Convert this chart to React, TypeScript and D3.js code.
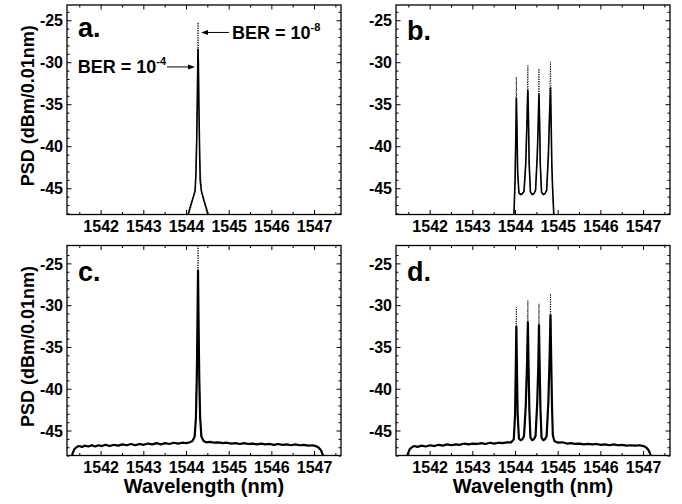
import React, { useEffect, useRef } from "react";
import { select, scaleLinear, line } from "d3";

// axis ticks
const xDomain = [1541.2, 1547.62];
const xMajor = [1542, 1543, 1544, 1545, 1546, 1547];
const xMinor = [1541.5, 1542.5, 1543.5, 1544.5, 1545.5, 1546.5, 1547.5];
const yMajor = [-45, -40, -35, -30, -25];
const yMinor = [-48, -47, -46, -44, -43, -42, -41, -39, -38, -37, -36, -34, -33, -32, -31, -29, -28, -27, -26, -24];
const topRowY = [-48.07, -23.13];
const bottomRowY = [-47.93, -22.8];

// a. single channel, BER = 1e-4 (solid) and BER = 1e-8 (dotted)
const aSolid = [
  [1544.02, -48.4], [1544.08, -47.3], [1544.14, -46.3], [1544.2, -45.3], [1544.22, -43.5],
  [1544.24, -39], [1544.255, -34], [1544.265, -29.8], [1544.27, -28.4], [1544.278, -30],
  [1544.29, -35], [1544.305, -40], [1544.32, -44], [1544.35, -45.3], [1544.41, -46.4],
  [1544.47, -47.4], [1544.52, -48.4]
];
const aDotted = [
  [1544.04, -48.4], [1544.2, -45.3], [1544.235, -40], [1544.255, -33], [1544.265, -27],
  [1544.27, -25.2], [1544.275, -27], [1544.29, -34], [1544.31, -41], [1544.35, -45.3],
  [1544.5, -48.4]
];

// b. four channels
const bSolid = [
  [1543.96, -48.4], [1543.99, -44], [1544.01, -38], [1544.02, -34.2], [1544.035, -38],
  [1544.05, -43], [1544.08, -45.5], [1544.12, -45.7], [1544.16, -45.6], [1544.2, -45.3],
  [1544.24, -42], [1544.27, -37], [1544.29, -33.3], [1544.305, -37], [1544.32, -42],
  [1544.35, -45.4], [1544.39, -45.7], [1544.43, -45.6], [1544.47, -45.2], [1544.51, -41],
  [1544.535, -37], [1544.55, -33.8], [1544.565, -37], [1544.58, -42], [1544.61, -45.4],
  [1544.65, -45.7], [1544.69, -45.6], [1544.73, -45.2], [1544.77, -41], [1544.8, -36],
  [1544.82, -33], [1544.835, -37], [1544.85, -42], [1544.87, -45], [1544.9, -48.4]
];
const bDotted = [
  [1543.97, -48.4], [1543.99, -44], [1544.01, -36], [1544.02, -31.7], [1544.03, -36],
  [1544.05, -43], [1544.08, -45.5], [1544.12, -45.7], [1544.16, -45.6], [1544.2, -45.3],
  [1544.24, -42], [1544.27, -35], [1544.29, -30.3], [1544.3, -35], [1544.32, -42],
  [1544.35, -45.4], [1544.39, -45.7], [1544.43, -45.6], [1544.47, -45.2], [1544.51, -41],
  [1544.535, -35], [1544.55, -30.7], [1544.56, -35], [1544.58, -42], [1544.61, -45.4],
  [1544.65, -45.7], [1544.69, -45.6], [1544.73, -45.2], [1544.77, -41], [1544.8, -34],
  [1544.82, -29.9], [1544.83, -34], [1544.85, -42], [1544.87, -45], [1544.9, -48.4]
];

// c. single channel with ASE floor
const cSolid = [
  [1541.3, -48.4], [1541.33, -47.7], [1541.37, -47.2], [1541.42, -46.95], [1541.48, -46.8],
  [1541.55, -46.9], [1541.62, -46.75], [1541.7, -46.85], [1541.78, -46.7], [1541.86, -46.85],
  [1541.94, -46.7], [1542.02, -46.8], [1542.1, -46.65], [1542.2, -46.8], [1542.3, -46.65],
  [1542.4, -46.75], [1542.5, -46.6], [1542.6, -46.7], [1542.7, -46.55], [1542.8, -46.7],
  [1542.9, -46.55], [1543.0, -46.65], [1543.1, -46.5], [1543.2, -46.6], [1543.3, -46.45],
  [1543.4, -46.6], [1543.5, -46.45], [1543.6, -46.55], [1543.7, -46.4], [1543.8, -46.5],
  [1543.9, -46.4], [1544.0, -46.45], [1544.08, -46.35], [1544.14, -46.2], [1544.19, -45.7],
  [1544.22, -43.5], [1544.24, -39], [1544.255, -33], [1544.265, -28], [1544.27, -25.8],
  [1544.276, -28.5], [1544.285, -33], [1544.3, -39], [1544.32, -43.5], [1544.35, -45.7],
  [1544.4, -46.2], [1544.46, -46.35], [1544.55, -46.3], [1544.65, -46.4], [1544.75, -46.35],
  [1544.85, -46.45], [1544.95, -46.4], [1545.05, -46.5], [1545.15, -46.45], [1545.25, -46.55],
  [1545.35, -46.45], [1545.45, -46.55], [1545.55, -46.5], [1545.65, -46.6], [1545.75, -46.5],
  [1545.85, -46.6], [1545.95, -46.55], [1546.05, -46.65], [1546.15, -46.55], [1546.25, -46.65],
  [1546.35, -46.6], [1546.45, -46.7], [1546.55, -46.6], [1546.65, -46.7], [1546.75, -46.65],
  [1546.85, -46.75], [1546.95, -46.7], [1547.03, -46.8], [1547.1, -47.0], [1547.15, -47.3],
  [1547.19, -47.8], [1547.22, -48.4]
];
const cDotted = [
  [1544.2, -45.6], [1544.24, -38], [1544.258, -31], [1544.267, -26], [1544.27, -22.3],
  [1544.274, -26], [1544.283, -31], [1544.3, -38], [1544.34, -45.6]
];

// d. four channels with ASE floor
const dSolid = [
  [1541.45, -48.4], [1541.48, -47.7], [1541.52, -47.2], [1541.57, -46.95], [1541.63, -46.8],
  [1541.7, -46.9], [1541.8, -46.75], [1541.9, -46.85], [1542.0, -46.7], [1542.1, -46.8],
  [1542.2, -46.65], [1542.3, -46.75], [1542.4, -46.6], [1542.5, -46.7], [1542.6, -46.6],
  [1542.7, -46.65], [1542.8, -46.5], [1542.9, -46.6], [1543.0, -46.5], [1543.1, -46.55],
  [1543.2, -46.45], [1543.3, -46.55], [1543.4, -46.4], [1543.5, -46.5], [1543.6, -46.4],
  [1543.7, -46.45], [1543.8, -46.35], [1543.9, -46.35], [1543.96, -46.0], [1543.99, -43],
  [1544.005, -38], [1544.02, -32.5], [1544.035, -38], [1544.05, -43], [1544.08, -45.9],
  [1544.12, -46.1], [1544.16, -46.0], [1544.2, -45.6], [1544.24, -42], [1544.27, -37],
  [1544.29, -32.0], [1544.305, -37], [1544.325, -42.5], [1544.35, -45.8], [1544.39, -46.1],
  [1544.43, -46.0], [1544.47, -45.6], [1544.51, -41.5], [1544.535, -37], [1544.55, -32.35],
  [1544.565, -37], [1544.585, -42.5], [1544.61, -45.8], [1544.65, -46.1], [1544.69, -46.0],
  [1544.73, -45.6], [1544.77, -41.5], [1544.8, -36], [1544.82, -31.15], [1544.835, -36],
  [1544.855, -42], [1544.875, -45.5], [1544.91, -46.2], [1545.0, -46.4], [1545.1, -46.35],
  [1545.2, -46.5], [1545.3, -46.45], [1545.4, -46.55], [1545.5, -46.5], [1545.6, -46.6],
  [1545.7, -46.55], [1545.8, -46.6], [1545.9, -46.55], [1546.0, -46.65], [1546.1, -46.6],
  [1546.2, -46.7], [1546.3, -46.6], [1546.4, -46.7], [1546.5, -46.65], [1546.6, -46.75],
  [1546.7, -46.7], [1546.8, -46.75], [1546.9, -46.7], [1547.0, -46.8], [1547.07, -47.0],
  [1547.12, -47.3], [1547.16, -47.8], [1547.19, -48.4]
];
const dDotted = [
  [1543.96, -46.0], [1543.99, -43], [1544.005, -36], [1544.02, -30.16], [1544.03, -36],
  [1544.05, -43], [1544.08, -45.9], [1544.12, -46.1], [1544.16, -46.0], [1544.2, -45.6],
  [1544.24, -42], [1544.275, -35], [1544.29, -29.36], [1544.3, -35], [1544.325, -42.5],
  [1544.35, -45.8], [1544.39, -46.1], [1544.43, -46.0], [1544.47, -45.6], [1544.51, -41.5],
  [1544.54, -35], [1544.55, -29.76], [1544.56, -35], [1544.585, -42.5], [1544.61, -45.8],
  [1544.65, -46.1], [1544.69, -46.0], [1544.73, -45.6], [1544.77, -41.5], [1544.805, -34],
  [1544.82, -28.57], [1544.83, -34], [1544.855, -42], [1544.875, -45.5], [1544.91, -46.2]
];

const panels = [
  { id: "a", left: 67, top: 5, w: 274, h: 209.5, yDomain: topRowY, solid: aSolid, dotted: aDotted, floorW: 1.6 },
  { id: "b", left: 396, top: 5, w: 274, h: 209.5, yDomain: topRowY, solid: bSolid, dotted: bDotted, floorW: 1.6 },
  { id: "c", left: 67, top: 245.5, w: 274, h: 210, yDomain: bottomRowY, solid: cSolid, dotted: cDotted, floorW: 2.2 },
  { id: "d", left: 396, top: 245.5, w: 274, h: 210, yDomain: bottomRowY, solid: dSolid, dotted: dDotted, floorW: 2.2 }
];

const font = "'Liberation Sans', Arial, sans-serif";

function Panel({ p }) {
  const ref = useRef(null);

  useEffect(() => {
    const g = select(ref.current);
    g.selectAll("*").remove();

    const x = scaleLinear().domain(xDomain).range([0, p.w]);
    const y = scaleLinear().domain(p.yDomain).range([p.h, 0]);

    g.append("clipPath")
      .attr("id", "clip-" + p.id)
      .append("rect")
      .attr("width", p.w)
      .attr("height", p.h);

    const path = line()
      .x(d => x(d[0]))
      .y(d => y(d[1]));

    const traces = g.append("g").attr("clip-path", `url(#clip-${p.id})`);
    traces.append("path")
      .attr("d", path(p.dotted))
      .attr("fill", "none")
      .attr("stroke", "#000")
      .attr("stroke-width", 1)
      .attr("stroke-dasharray", "1 1.4");
    traces.append("path")
      .attr("d", path(p.solid))
      .attr("fill", "none")
      .attr("stroke", "#000")
      .attr("stroke-width", p.floorW)
      .attr("stroke-linejoin", "round");

    // inward ticks on all four sides
    const ticks = g.append("g").attr("stroke", "#000").attr("stroke-width", 1);
    const xt = [...xMajor.map(v => [v, 4.5]), ...xMinor.map(v => [v, 2.5])];
    xt.forEach(([v, len]) => {
      ticks.append("line").attr("x1", x(v)).attr("x2", x(v)).attr("y1", p.h).attr("y2", p.h - len);
      ticks.append("line").attr("x1", x(v)).attr("x2", x(v)).attr("y1", 0).attr("y2", len);
    });
    const yt = [...yMajor.map(v => [v, 4.5]), ...yMinor.map(v => [v, 2.5])];
    yt.forEach(([v, len]) => {
      ticks.append("line").attr("y1", y(v)).attr("y2", y(v)).attr("x1", 0).attr("x2", len);
      ticks.append("line").attr("y1", y(v)).attr("y2", y(v)).attr("x1", p.w).attr("x2", p.w - len);
    });

    g.append("rect")
      .attr("width", p.w)
      .attr("height", p.h)
      .attr("fill", "none")
      .attr("stroke", "#000")
      .attr("stroke-width", 1.3);

    g.selectAll(".xl")
      .data(xMajor)
      .enter()
      .append("text")
      .attr("x", d => x(d))
      .attr("y", p.h + 17)
      .attr("text-anchor", "middle")
      .attr("font-family", font)
      .attr("font-weight", "bold")
      .attr("font-size", 16)
      .text(d => d);

    g.selectAll(".yl")
      .data(yMajor)
      .enter()
      .append("text")
      .attr("x", -4)
      .attr("y", d => y(d))
      .attr("dy", "0.36em")
      .attr("text-anchor", "end")
      .attr("font-family", font)
      .attr("font-weight", "bold")
      .attr("font-size", 16)
      .text(d => d);

    g.append("text")
      .attr("x", 11)
      .attr("y", p.id === "a" ? 32 : 35)
      .attr("font-family", font)
      .attr("font-weight", "bold")
      .attr("font-size", 27)
      .text(p.id + ".");

    if (p.id === "a") {
      const peak = 1544.27;
      const ann = g.append("g").attr("font-family", font).attr("font-weight", "bold").attr("font-size", 18);

      // BER = 1e-8 arrow, pointing left at the dotted trace
      const t1x = x(peak) + 3;
      const t1y = y(-26.4);
      ann.append("line").attr("x1", t1x + 5).attr("x2", t1x + 28).attr("y1", t1y).attr("y2", t1y).attr("stroke", "#000");
      ann.append("path")
        .attr("d", `M${t1x},${t1y}L${t1x + 7},${t1y - 2.5}L${t1x + 7},${t1y + 2.5}Z`)
        .attr("fill", "#000");
      const txt1 = ann.append("text").attr("x", t1x + 31).attr("y", t1y + 7);
      txt1.append("tspan").text("BER = 10");
      txt1.append("tspan").attr("dy", -8).attr("font-size", 11).text("-8");

      // BER = 1e-4 arrow, pointing right at the solid trace
      const t2x = x(peak) - 3;
      const t2y = y(-30.5);
      ann.append("line").attr("x1", t2x - 28).attr("x2", t2x - 5).attr("y1", t2y).attr("y2", t2y).attr("stroke", "#000");
      ann.append("path")
        .attr("d", `M${t2x},${t2y}L${t2x - 7},${t2y - 2.5}L${t2x - 7},${t2y + 2.5}Z`)
        .attr("fill", "#000");
      const txt2 = ann.append("text").attr("x", t2x - 29).attr("y", t2y + 6).attr("text-anchor", "end");
      txt2.append("tspan").text("BER = 10");
      txt2.append("tspan").attr("dy", -8).attr("font-size", 11).text("-4");
    }

    if (p.id === "a" || p.id === "c") {
      g.append("text")
        .attr("transform", `translate(-33,${p.h / 2 - 4}) rotate(-90)`)
        .attr("text-anchor", "middle")
        .attr("font-family", font)
        .attr("font-weight", "bold")
        .attr("font-size", 18)
        .text("PSD (dBm/0.01nm)");
    }

    if (p.id === "c" || p.id === "d") {
      g.append("text")
        .attr("x", p.w / 2)
        .attr("y", p.h + 37)
        .attr("text-anchor", "middle")
        .attr("font-family", font)
        .attr("font-weight", "bold")
        .attr("font-size", 20)
        .text("Wavelength (nm)");
    }
  }, [p]);

  return <g ref={ref} transform={`translate(${p.left},${p.top})`}></g>;
}

function App() {
  return (
    <div style={{ position: "absolute", left: 0, top: 0 }}>
      <svg width={682} height={504} style={{ display: "block", background: "#fff" }}>
        {panels.map(p => (
          <Panel key={p.id} p={p} />
        ))}
      </svg>
    </div>
  );
}

export default App;
